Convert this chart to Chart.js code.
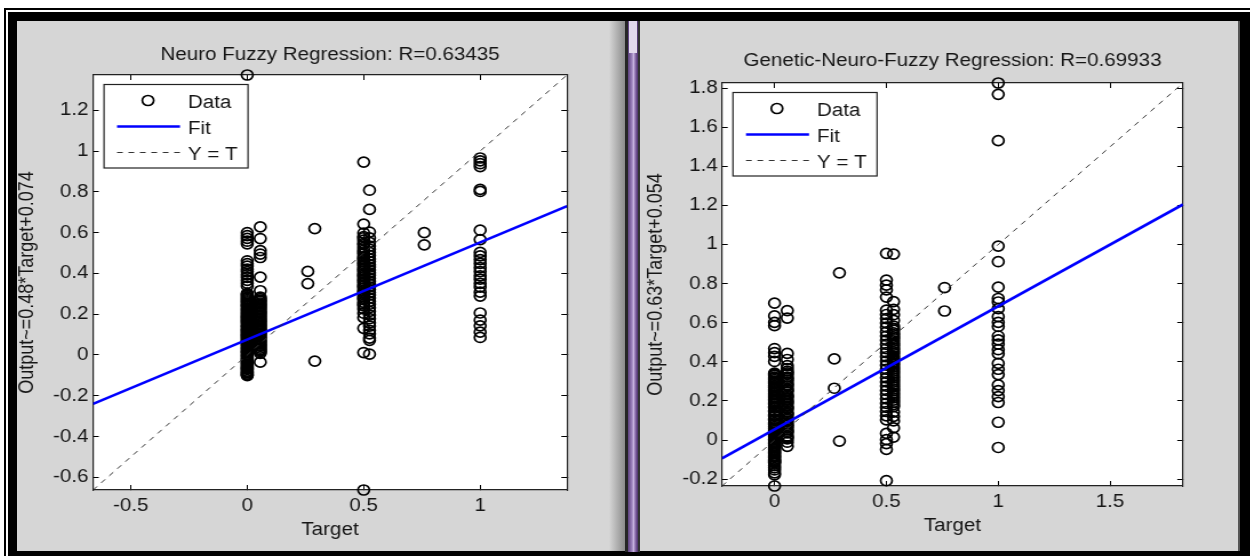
<!DOCTYPE html>
<html>
<head>
<meta charset="utf-8">
<script src="https://cdn.jsdelivr.net/npm/chart.js@4.4.1/dist/chart.umd.min.js"></script>
<style>
  html, body { margin: 0; padding: 0; background: #fff; }
  #page { position: relative; width: 1250px; height: 556px; overflow: hidden; background: #fff; }
  #thin { position: absolute; left: 4px; top: 8px; width: 1246px; height: 548px; border-left: 2px solid #000; border-top: 2px solid #000; box-sizing: border-box; }
  #frame { position: absolute; left: 8px; top: 12px; width: 1242px; height: 544px; background: #000; }
  .panel { position: absolute; top: 21px; height: 530px; background: #d6d6d6; }
  #p1 { left: 17px; width: 608px; background: linear-gradient(to right, #d6d6d6 0, #d6d6d6 592px, #8c8c8c 608px); }
  #sep1 { position: absolute; left: 625px; top: 21px; width: 3px; height: 531px; background: #262626; }
  #divider { position: absolute; left: 628px; top: 21px; width: 10px; height: 531px; background: linear-gradient(to right, #5b3f7c, #9d83bd 40%, #c4b0dc 55%, #7a5a9c 80%, #4a3266); }
  #dividerTop { position: absolute; left: 629px; top: 21px; width: 8px; height: 32px; background: #e2d9ec; }
  #sep2 { position: absolute; left: 638px; top: 21px; width: 2px; height: 531px; background: #333; }
  #p2 { left: 640px; width: 598px; }
  #edge2 { position: absolute; left: 1238px; top: 21px; width: 2px; height: 530px; background: #555; }
  canvas { position: absolute; }
</style>
</head>
<body>
<div id="page">
  <div id="thin"></div>
  <div id="frame"></div>
  <div class="panel" id="p1"></div>
  <div id="sep1"></div>
  <div id="divider"></div>
  <div id="dividerTop"></div>
  <div id="sep2"></div>
  <div class="panel" id="p2"></div>
  <div id="edge2"></div>
  <canvas id="c1" width="532" height="530" style="left:17px;top:21px;width:608px;height:530px"></canvas>
  <canvas id="c2" width="523" height="530" style="left:640px;top:21px;width:598px;height:530px"></canvas>
</div>
<script>
// ---- Neuro Fuzzy (left) ----
var nfTitle = 'Neuro Fuzzy Regression: R=0.63435';
var nfYLabel = 'Output~=0.48*Target+0.074';
var nfMin = -0.662, nfMax = 1.373;
var nfXTicks = [-0.5, 0, 0.5, 1];
var nfYTicks = [-0.6, -0.4, -0.2, 0, 0.2, 0.4, 0.6, 0.8, 1, 1.2];
var nfTargets = [0, 0.056, 0.26, 0.29, 0.5, 0.525, 0.76, 1];
var nfOutputs = [
  [1.373, 0.600, 0.585, 0.572, 0.558, 0.545, 0.462, 0.448, 0.436, 0.421, 0.409, 0.394, 0.381, 0.366, 0.352, 0.338,
   0.302, 0.297, 0.291, 0.284, 0.278, 0.272, 0.266, 0.261, 0.255, 0.247, 0.243, 0.238, 0.229, 0.224, 0.218, 0.211,
   0.205, 0.199, 0.192, 0.187, 0.183, 0.177, 0.171, 0.166, 0.160, 0.154, 0.146, 0.141, 0.137, 0.128, 0.124, 0.119,
   0.113, 0.108, 0.101, 0.097, 0.092, 0.086, 0.081, 0.074, 0.069, 0.063, 0.057, 0.051, 0.046, 0.038, 0.033, 0.027,
   0.019, 0.015, 0.011, 0.002, -0.003, -0.008, -0.016, -0.021, -0.027, -0.034, -0.039, -0.045, -0.052, -0.058,
   -0.063, -0.067, -0.071, -0.079, -0.084, -0.088, -0.094, -0.098, -0.101],
  [0.628, 0.571, 0.512, 0.495, 0.478, 0.382, 0.315, 0.284, 0.276, 0.269, 0.263, 0.255, 0.249, 0.243, 0.236, 0.229,
   0.222, 0.214, 0.208, 0.203, 0.195, 0.188, 0.181, 0.173, 0.167, 0.162, 0.153, 0.147, 0.141, 0.133, 0.127, 0.122,
   0.113, 0.107, 0.102, 0.094, 0.087, 0.081, 0.072, 0.066, 0.061, 0.053, 0.047, 0.042, 0.034, 0.027, 0.021, 0.016,
   0.008, -0.035],
  [0.41, 0.35],
  [0.62, -0.03],
  [0.946, 0.642, 0.598, 0.581, 0.575, 0.563, 0.548, 0.541, 0.527, 0.514, 0.505, 0.496, 0.482, 0.474, 0.467, 0.455,
   0.447, 0.439, 0.426, 0.418, 0.411, 0.398, 0.391, 0.384, 0.372, 0.364, 0.356, 0.343, 0.337, 0.329, 0.315, 0.309,
   0.302, 0.287, 0.279, 0.272, 0.258, 0.249, 0.241, 0.226, 0.205, 0.183, 0.131, 0.012, -0.662],
  [0.808, 0.714, 0.603, 0.574, 0.552, 0.534, 0.519, 0.503, 0.488, 0.471, 0.458, 0.443, 0.431, 0.417, 0.403, 0.391,
   0.376, 0.362, 0.349, 0.334, 0.321, 0.306, 0.294, 0.279, 0.263, 0.249, 0.232, 0.214, 0.196, 0.178, 0.158, 0.142,
   0.121, 0.104, 0.083, 0.072, 0.004],
  [0.60, 0.54],
  [0.966, 0.952, 0.938, 0.924, 0.812, 0.802, 0.612, 0.566, 0.503, 0.486, 0.468, 0.449, 0.428, 0.409, 0.388, 0.372,
   0.351, 0.333, 0.308, 0.289, 0.206, 0.171, 0.143, 0.112, 0.086]
];
var nfFitX = [-0.662, 1.373];
var nfFitY = [-0.24, 0.73];

// ---- Genetic-Neuro-Fuzzy (right) ----
var gnfTitle = 'Genetic-Neuro-Fuzzy Regression: R=0.69933';
var gnfYLabel = 'Output~=0.63*Target+0.054';
var gnfMin = -0.235, gnfMax = 1.826;
var gnfXTicks = [0, 0.5, 1, 1.5];
var gnfYTicks = [-0.2, 0, 0.2, 0.4, 0.6, 0.8, 1, 1.2, 1.4, 1.6, 1.8];
var gnfTargets = [0, 0.057, 0.267, 0.29, 0.5, 0.532, 0.76, 1];
var gnfOutputs = [
  [0.700, 0.635, 0.602, 0.585, 0.468, 0.447, 0.428, 0.402, 0.342, 0.337, 0.331, 0.322, 0.316, 0.309, 0.301, 0.294,
   0.288, 0.279, 0.272, 0.267, 0.258, 0.252, 0.246, 0.237, 0.231, 0.224, 0.216, 0.209, 0.203, 0.195, 0.188, 0.183,
   0.172, 0.168, 0.164, 0.151, 0.147, 0.143, 0.131, 0.126, 0.122, 0.109, 0.105, 0.101, 0.089, 0.083, 0.078, 0.069,
   0.062, 0.057, 0.048, 0.041, 0.036, 0.027, 0.021, 0.015, 0.006, 0.001, -0.005, -0.014, -0.019, -0.026, -0.035,
   -0.041, -0.047, -0.056, -0.062, -0.068, -0.077, -0.083, -0.089, -0.098, -0.104, -0.109, -0.113, -0.118, -0.131,
   -0.142, -0.153, -0.168, -0.178, -0.235],
  [0.662, 0.624, 0.443, 0.412, 0.381, 0.366, 0.352, 0.344, 0.337, 0.322, 0.314, 0.306, 0.293, 0.284, 0.277, 0.262,
   0.255, 0.248, 0.231, 0.224, 0.217, 0.203, 0.195, 0.188, 0.172, 0.165, 0.158, 0.141, 0.134, 0.127, 0.112, 0.104,
   0.097, 0.083, 0.075, 0.066, 0.052, 0.045, 0.037, 0.021, 0.014, 0.006, -0.011, -0.032],
  [0.415, 0.265],
  [0.855, -0.005],
  [0.955, 0.818, 0.792, 0.768, 0.731, 0.664, 0.642, 0.621, 0.598, 0.577, 0.553, 0.532, 0.511, 0.489, 0.468, 0.447,
   0.426, 0.404, 0.383, 0.362, 0.341, 0.318, 0.297, 0.276, 0.254, 0.233, 0.211, 0.188, 0.167, 0.146, 0.124, 0.103,
   0.034, 0.002, -0.018, -0.048, -0.208],
  [0.951, 0.708, 0.668, 0.641, 0.612, 0.583, 0.571, 0.562, 0.548, 0.539, 0.527, 0.518, 0.506, 0.494, 0.485, 0.472,
   0.463, 0.451, 0.442, 0.429, 0.418, 0.409, 0.396, 0.387, 0.374, 0.363, 0.352, 0.341, 0.329, 0.318, 0.307, 0.296,
   0.284, 0.273, 0.261, 0.252, 0.239, 0.228, 0.216, 0.204, 0.193, 0.181, 0.171, 0.143, 0.121, 0.098, 0.062, 0.015],
  [0.78, 0.66],
  [1.826, 1.768, 1.531, 0.992, 0.912, 0.782, 0.724, 0.706, 0.672, 0.631, 0.602, 0.581, 0.532, 0.512, 0.491, 0.462,
   0.441, 0.392, 0.362, 0.335, 0.282, 0.253, 0.222, 0.192, 0.091, -0.038]
];
var gnfFitX = [-0.235, 1.826];
var gnfFitY = [-0.094, 1.205];

var FONT = '"Liberation Sans", Arial, sans-serif';
var INK = '#161616';

function fmt(v) { return String(Number(Number(v).toFixed(2))); }

function toPoints(levels, outputs) {
  var pts = [];
  levels.forEach(function(t, i) {
    outputs[i].forEach(function(o) { pts.push({x: t, y: o}); });
  });
  return pts;
}

// white plot box like matlab axes
var plotBg = {
  id: 'plotBg',
  beforeDraw: function(chart) {
    var a = chart.chartArea, ctx = chart.ctx;
    ctx.save();
    ctx.fillStyle = '#fff';
    ctx.fillRect(a.left, a.top, a.right - a.left, a.bottom - a.top);
    ctx.restore();
  }
};

// boxed legend in the upper left corner of the axes
var boxLegend = {
  id: 'boxLegend',
  afterDraw: function(chart) {
    var a = chart.chartArea, ctx = chart.ctx;
    var x = a.left + 9.6, y = a.top + 9.5, w = 126, h = 83.5;
    ctx.save();
    ctx.fillStyle = '#fff';
    ctx.fillRect(x, y, w, h);
    ctx.strokeStyle = '#222';
    ctx.lineWidth = 1.2;
    ctx.strokeRect(x, y, w, h);
    ctx.font = '18px ' + FONT;
    ctx.textBaseline = 'alphabetic';
    chart.data.datasets.forEach(function(ds, i) {
      var cy = y + 16 + i * 26;
      ctx.beginPath();
      if (ds.showLine === false) {
        ctx.setLineDash([]);
        ctx.arc(x + 38.5, cy, ds.pointRadius, 0, Math.PI * 2);
        ctx.lineWidth = ds.pointBorderWidth;
        ctx.strokeStyle = ds.pointBorderColor;
      } else {
        ctx.setLineDash(ds.borderDash || []);
        ctx.moveTo(x + 11.4, cy);
        ctx.lineTo(x + 66.5, cy);
        ctx.lineWidth = ds.borderWidth;
        ctx.strokeStyle = ds.borderColor;
      }
      ctx.stroke();
      ctx.setLineDash([]);
      ctx.fillStyle = INK;
      ctx.fillText(ds.label, x + 73.5, cy + 7.3);
    });
    ctx.restore();
  }
};

function tickList(vals) {
  return function(s) { s.ticks = vals.map(function(v) { return {value: v}; }); };
}

function buildChart(id, c) {
  var inward = {drawOnChartArea: false, drawTicks: true, tickLength: -5, color: '#000', lineWidth: 1};
  var edge = {display: true, color: '#222', width: 1.2};
  return new Chart(document.getElementById(id), {
    type: 'scatter',
    data: {
      datasets: [
        {
          label: 'Data',
          data: toPoints(c.targets, c.outputs),
          showLine: false,
          pointRadius: 5,
          pointHoverRadius: 5,
          pointBorderWidth: 1.7,
          pointBorderColor: '#000',
          pointBackgroundColor: 'rgba(0,0,0,0)',
          clip: false,
          order: 3
        },
        {
          label: 'Fit',
          data: c.fitX.map(function(v, i) { return {x: v, y: c.fitY[i]}; }),
          showLine: true,
          borderColor: '#0000ff',
          borderWidth: 2.6,
          pointRadius: 0,
          order: 2
        },
        {
          label: 'Y = T',
          data: [{x: c.min, y: c.min}, {x: c.max, y: c.max}],
          showLine: true,
          borderColor: '#333',
          borderWidth: 1,
          borderDash: [5, 5],
          pointRadius: 0,
          order: 1
        }
      ]
    },
    options: {
      responsive: false,
      devicePixelRatio: 1,
      animation: false,
      events: [],
      layout: {padding: {left: 0, top: 0, right: c.padRight, bottom: c.padBottom}},
      plugins: {
        legend: {display: false},
        tooltip: {enabled: false},
        title: {
          display: true,
          text: c.title,
          fullSize: false,
          color: INK,
          font: {family: FONT, size: 18, weight: 'normal'},
          padding: {top: c.titleTop, bottom: c.titleBottom}
        }
      },
      scales: {
        x: {
          type: 'linear', position: 'bottom', min: c.min, max: c.max,
          afterBuildTicks: tickList(c.xTicks),
          ticks: {callback: fmt, color: INK, font: {family: FONT, size: 18}, padding: 10, maxRotation: 0, autoSkip: false},
          grid: inward, border: edge,
          title: {display: true, text: 'Target', color: INK, font: {family: FONT, size: 18, lineHeight: 1}, padding: {top: 0, bottom: c.xTitlePad}},
          afterFit: function(s) { s.height = 50; }
        },
        y: {
          type: 'linear', position: 'left', min: c.min, max: c.max,
          afterBuildTicks: tickList(c.yTicks),
          ticks: {callback: fmt, color: INK, font: {family: FONT, size: 18}, padding: c.yTickPad, autoSkip: false},
          grid: inward, border: edge,
          title: {display: true, text: c.yLabel, color: INK, font: {family: FONT, size: 18, lineHeight: 1}, padding: {top: c.yTitlePad, bottom: 0}},
          afterFit: function(s) { s.width = c.yWidth; }
        },
        xTop: {
          type: 'linear', position: 'top', min: c.min, max: c.max,
          afterBuildTicks: tickList(c.xTicks),
          ticks: {display: false},
          grid: inward, border: edge,
          afterFit: function(s) { s.height = 0; }
        },
        yRight: {
          type: 'linear', position: 'right', min: c.min, max: c.max,
          afterBuildTicks: tickList(c.yTicks),
          ticks: {display: false},
          grid: inward, border: edge,
          afterFit: function(s) { s.width = 0; }
        }
      }
    },
    plugins: [plotBg, boxLegend]
  });
}

buildChart('c1', {
  title: nfTitle, yLabel: nfYLabel, min: nfMin, max: nfMax,
  xTicks: nfXTicks, yTicks: nfYTicks, targets: nfTargets, outputs: nfOutputs,
  fitX: nfFitX, fitY: nfFitY,
  padRight: 50.75, padBottom: 11, titleTop: 23, titleBottom: 9.4,
  yWidth: 66.5, yTickPad: 9.1, yTitlePad: 0.5, xTitlePad: 1.2
});

buildChart('c2', {
  title: gnfTitle, yLabel: gnfYLabel, min: gnfMin, max: gnfMax,
  xTicks: gnfXTicks, yTicks: gnfYTicks, targets: gnfTargets, outputs: gnfOutputs,
  fitX: gnfFitX, fitY: gnfFitY,
  padRight: 48.1, padBottom: 15, titleTop: 29, titleBottom: 11.4,
  yWidth: 71.7, yTickPad: 8.8, yTitlePad: 4.9, xTitlePad: 0.5
});
</script>
</body>
</html>
